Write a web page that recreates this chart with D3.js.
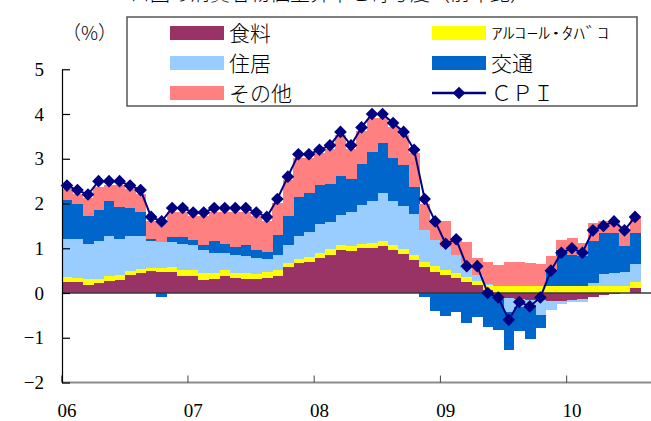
<!doctype html>
<html lang="ja">
<head>
<meta charset="utf-8">
<title>CPI contributions</title>
<style>
body { margin: 0; background: #fff; }
</style>
</head>
<body>
<div id="chart"></div>
<script src="https://d3js.org/d3.v7.min.js"></script>
<script>
var months = [
  "2006-01","2006-02","2006-03","2006-04","2006-05","2006-06","2006-07","2006-08","2006-09","2006-10","2006-11","2006-12",
  "2007-01","2007-02","2007-03","2007-04","2007-05","2007-06","2007-07","2007-08","2007-09","2007-10","2007-11","2007-12",
  "2008-01","2008-02","2008-03","2008-04","2008-05","2008-06","2008-07","2008-08","2008-09","2008-10","2008-11","2008-12",
  "2009-01","2009-02","2009-03","2009-04","2009-05","2009-06","2009-07","2009-08","2009-09","2009-10","2009-11","2009-12",
  "2010-01","2010-02","2010-03","2010-04","2010-05","2010-06","2010-07"
];
var yearStarts = ["2006-01","2007-01","2008-01","2009-01","2010-01"];
var yearLabels = ["06","07","08","09","10"];
var yTicks = [-2, -1, 0, 1, 2, 3, 4, 5];

var food = [
  0.25,0.24,0.18,0.22,0.27,0.29,0.40,0.45,0.49,0.46,0.46,0.39,
  0.39,0.30,0.31,0.37,0.33,0.32,0.31,0.34,0.37,0.59,0.66,0.70,
  0.78,0.85,0.95,0.93,1.00,1.01,1.05,0.96,0.88,0.73,0.57,0.48,
  0.40,0.34,0.25,0.17,0.07,-0.08,-0.12,-0.14,-0.15,-0.16,-0.18,-0.18,
  -0.16,-0.13,-0.10,-0.05,-0.03,-0.01,0.12
];
var alcohol = [
  0.11,0.10,0.13,0.10,0.10,0.11,0.09,0.09,0.07,0.10,0.12,0.13,
  0.13,0.14,0.13,0.15,0.12,0.13,0.11,0.14,0.15,0.09,0.11,0.10,
  0.11,0.13,0.13,0.11,0.10,0.10,0.12,0.12,0.10,0.13,0.13,0.13,
  0.11,0.10,0.10,0.10,0.11,0.16,0.16,0.16,0.16,0.16,0.16,0.16,
  0.16,0.16,0.16,0.16,0.16,0.16,0.13
];
var housing = [
  0.85,0.87,0.79,0.85,0.90,0.81,0.78,0.74,0.61,0.57,0.56,0.58,
  0.56,0.51,0.46,0.38,0.40,0.37,0.37,0.28,0.33,0.40,0.50,0.56,
  0.65,0.61,0.67,0.76,0.87,0.94,1.06,0.97,0.97,0.90,0.70,0.58,
  0.52,0.41,0.31,0.13,0.03,-0.05,-0.30,-0.18,-0.12,-0.34,-0.20,-0.06,
  -0.05,-0.06,0.06,0.27,0.28,0.31,0.40
];
var transport = [
  0.86,0.77,0.63,0.69,0.78,0.72,0.62,0.54,0.04,-0.10,0.12,0.16,
  0.10,0.12,0.26,0.20,0.18,0.26,0.18,0.16,0.45,0.63,0.88,0.88,
  0.88,0.85,0.86,0.74,0.92,1.10,1.12,0.96,0.90,0.60,-0.10,-0.40,
  -0.51,-0.43,-0.66,-0.54,-0.75,-0.70,-0.85,-0.52,-0.75,-0.29,0.35,0.80,
  0.70,0.66,0.95,0.91,0.90,0.58,0.69
];
var other = [
  0.25,0.24,0.39,0.50,0.37,0.49,0.43,0.40,0.41,0.43,0.56,0.56,
  0.54,0.65,0.66,0.72,0.79,0.74,0.75,0.70,0.72,0.81,0.87,0.78,
  0.70,0.78,0.91,0.68,0.73,0.77,0.57,0.71,0.67,0.76,0.59,0.43,
  0.59,0.39,0.49,0.39,0.49,0.47,0.53,0.54,0.50,0.49,0.32,0.23,
  0.38,0.30,0.39,0.26,0.30,0.38,0.34
];
var cpi = [
  2.4,2.3,2.2,2.5,2.5,2.5,2.4,2.3,1.7,1.6,1.9,1.9,
  1.8,1.8,1.9,1.9,1.9,1.9,1.8,1.7,2.1,2.6,3.1,3.1,
  3.2,3.3,3.6,3.3,3.7,4.0,4.0,3.8,3.6,3.2,2.1,1.6,
  1.1,1.2,0.6,0.6,0.0,-0.1,-0.6,-0.2,-0.3,-0.1,0.5,0.9,
  1.0,0.9,1.4,1.5,1.6,1.4,1.7
];

var keys = ["food", "alcohol", "housing", "transport", "other"];
var names = ["食料", "ｱﾙｺｰﾙ･ﾀﾊﾞｺ", "住居", "交通", "その他"];
var colors = ["#993366", "#ffff00", "#99ccff", "#0066cc", "#ff8080"];
var lineColor = "#000080";

var serifFont = "'Liberation Serif', 'DejaVu Serif', serif";
var jpFont = "'Noto Sans CJK JP', sans-serif";

var width = 651, height = 421;

var table = months.map(function(m, i) {
  return {month: m, food: food[i], alcohol: alcohol[i], housing: housing[i],
          transport: transport[i], other: other[i], cpi: cpi[i]};
});

var svg = d3.select("#chart").append("svg")
  .attr("width", width)
  .attr("height", height);

// x: one band per month, no gaps
var x = d3.scaleBand()
  .domain(months)
  .range([61.7, 61.7 + months.length * 10.52])
  .padding(0);

var y = d3.scaleLinear()
  .domain([-2, 5])
  .range([382.5, 69.25]);

var color = d3.scaleOrdinal().domain(keys).range(colors);

// title line, mostly cut off by the top of the picture
svg.append("text")
  .attr("x", 310)
  .attr("y", 1)
  .attr("text-anchor", "middle")
  .style("font-family", jpFont)
  .style("font-weight", 300)
  .style("font-size", "20px")
  .text("ユーロ圏の消費者物価上昇率と寄与度（前年比）");

// stacked bars, positives up and negatives down
var series = d3.stack().keys(keys).offset(d3.stackOffsetDiverging)(table);

svg.append("g")
  .selectAll("g")
  .data(series)
  .join("g")
    .attr("fill", function(d) { return color(d.key); })
  .selectAll("rect")
  .data(function(d) { return d; })
  .join("rect")
    .attr("shape-rendering", "crispEdges")
    .attr("x", function(d) { return x(d.data.month); })
    .attr("width", x.bandwidth() + 0.4)
    .attr("y", function(d) { return y(Math.max(d[0], d[1])); })
    .attr("height", function(d) { return Math.abs(y(d[0]) - y(d[1])); });

// zero line
svg.append("line")
  .attr("x1", 62).attr("x2", width)
  .attr("y1", y(0)).attr("y2", y(0))
  .attr("stroke", "#3a3a3a")
  .attr("stroke-width", 1.5);

// bottom axis line at -2 and year ticks
svg.append("line")
  .attr("x1", 62).attr("x2", width)
  .attr("y1", y(-2)).attr("y2", y(-2))
  .attr("stroke", "#8c8c8c")
  .attr("stroke-width", 2);

svg.append("g")
  .selectAll("line")
  .data(yearStarts)
  .join("line")
    .attr("x1", function(d) { return x(d); })
    .attr("x2", function(d) { return x(d); })
    .attr("y1", y(-2))
    .attr("y2", y(-2) - 7)
    .attr("stroke", "#444")
    .attr("stroke-width", 1);

svg.append("g")
  .selectAll("text")
  .data(yearStarts)
  .join("text")
    .attr("x", function(d) { return x(d) + x.bandwidth() / 2; })
    .attr("y", 417)
    .attr("text-anchor", "middle")
    .style("font-family", serifFont)
    .style("font-size", "19px")
    .text(function(d, i) { return yearLabels[i]; });

// y axis, ticks pointing inside
var yAxis = d3.axisLeft(y)
  .tickValues(yTicks)
  .tickSize(-8)
  .tickSizeOuter(0)
  .tickPadding(18)
  .tickFormat(d3.format("d"));

var gy = svg.append("g")
  .attr("transform", "translate(62,0)")
  .call(yAxis);
gy.select(".domain").attr("stroke", "#000").attr("stroke-width", 1.2);
gy.selectAll(".tick line").attr("stroke", "#000").attr("stroke-width", 1.2);
gy.selectAll(".tick text")
  .style("font-family", serifFont)
  .style("font-size", "19px")
  .attr("fill", "#000");

svg.append("text")
  .attr("x", 62)
  .attr("y", 40)
  .style("font-family", jpFont)
  .style("font-weight", 300)
  .style("font-size", "19px")
  .text("（%）");

// CPI line with diamond markers
var cx = function(d) { return x(d.month) + x.bandwidth() / 2; };

svg.append("path")
  .datum(table)
  .attr("fill", "none")
  .attr("stroke", lineColor)
  .attr("stroke-width", 2)
  .attr("d", d3.line().x(cx).y(function(d) { return y(d.cpi); }));

var diamond = d3.symbol().type(d3.symbolSquare).size(80);

svg.append("g")
  .selectAll("path")
  .data(table)
  .join("path")
    .attr("fill", lineColor)
    .attr("d", diamond)
    .attr("transform", function(d) {
      return "translate(" + cx(d) + "," + y(d.cpi) + ") rotate(45)";
    });

// legend
var legend = svg.append("g");
legend.append("rect")
  .attr("x", 127).attr("y", 17)
  .attr("width", 510).attr("height", 89)
  .attr("fill", "#fff")
  .attr("stroke", "#555")
  .attr("stroke-width", 1.5);

var legendPos = [
  {col: 0, row: 0}, {col: 1, row: 0},
  {col: 0, row: 1}, {col: 1, row: 1},
  {col: 0, row: 2}
];
var colX = [170, 432];
var rowY = [33, 63, 93];

keys.forEach(function(k, i) {
  var p = legendPos[i];
  legend.append("rect")
    .attr("x", colX[p.col]).attr("y", rowY[p.row] - 7)
    .attr("width", 54).attr("height", 14)
    .attr("fill", colors[i]);
  var t = legend.append("text")
    .attr("x", colX[p.col] + 59)
    .attr("y", rowY[p.row] + 8)
    .style("font-family", jpFont)
    .style("font-weight", 300)
    .style("font-size", "21px")
    .text(names[i]);
  if (k === "alcohol") {
    t.attr("y", rowY[p.row] + 6)
      .style("font-size", "16px")
      .attr("textLength", 118)
      .attr("lengthAdjust", "spacingAndGlyphs");
  }
});

legend.append("line")
  .attr("x1", colX[1]).attr("x2", colX[1] + 54)
  .attr("y1", rowY[2]).attr("y2", rowY[2])
  .attr("stroke", lineColor)
  .attr("stroke-width", 2.5);
legend.append("path")
  .attr("fill", lineColor)
  .attr("d", diamond)
  .attr("transform", "translate(" + (colX[1] + 27) + "," + rowY[2] + ") rotate(45)");
legend.append("text")
  .attr("x", colX[1] + 59)
  .attr("y", rowY[2] + 8)
  .style("font-family", jpFont)
  .style("font-weight", 300)
  .style("font-size", "21px")
  .text("ＣＰＩ");
</script>
</body>
</html>
